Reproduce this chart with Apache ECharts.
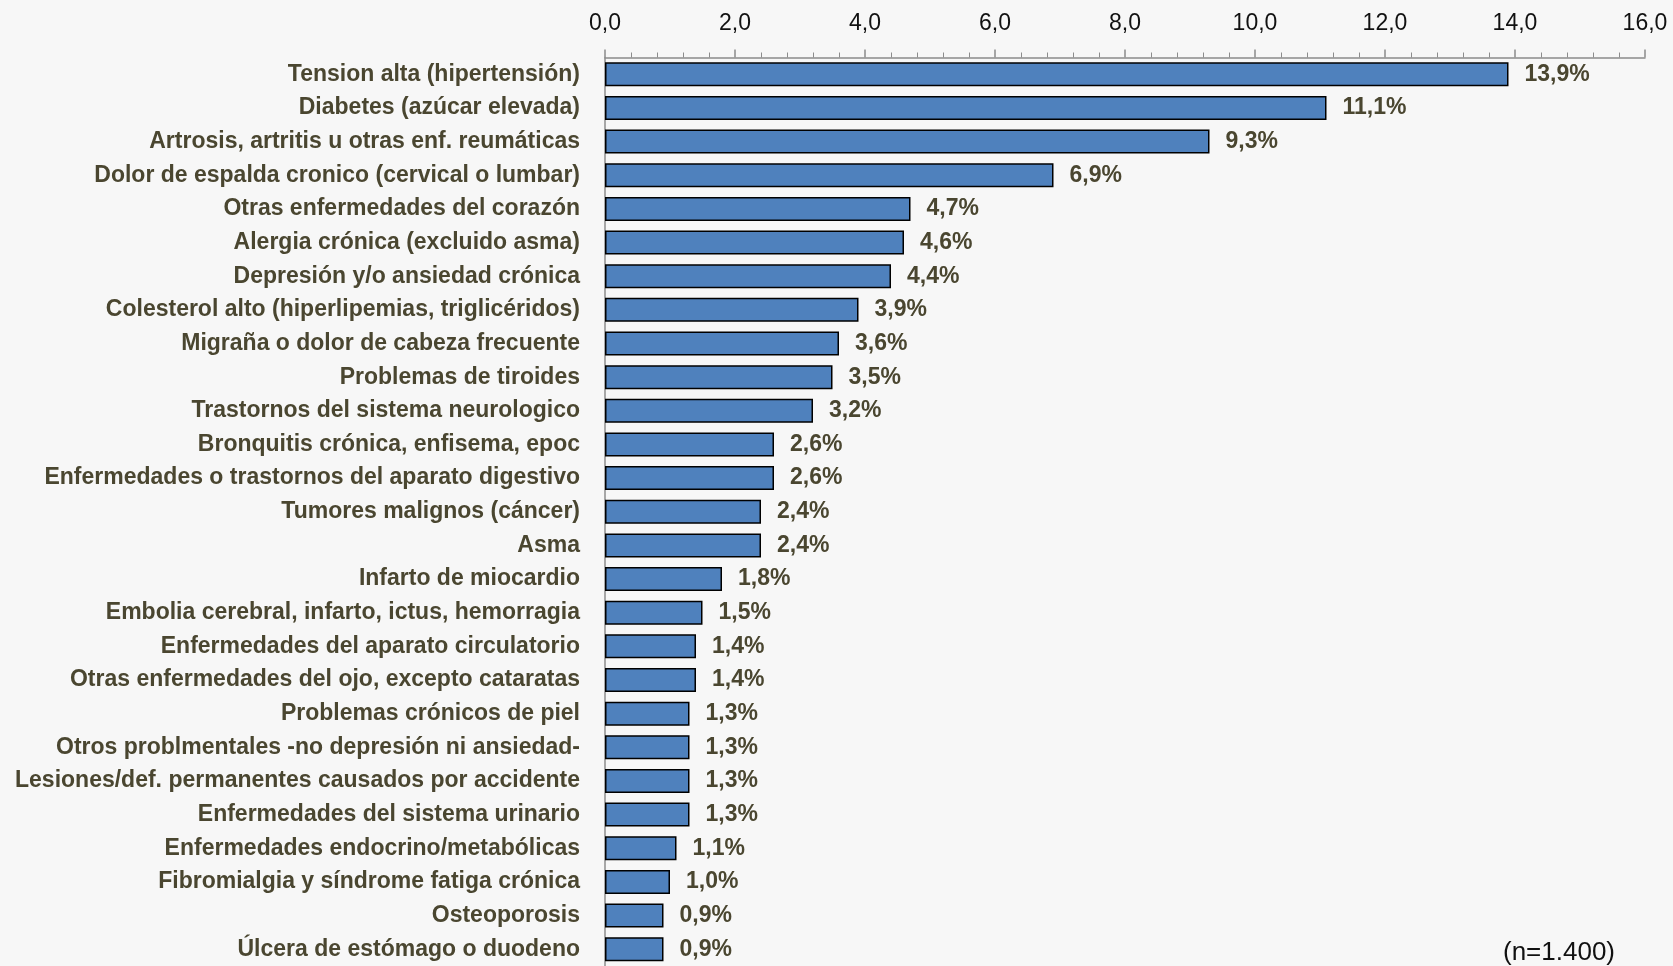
<!DOCTYPE html>
<html><head><meta charset="utf-8">
<script src="https://cdn.jsdelivr.net/npm/echarts@6/dist/echarts.min.js"></script>
<style>html,body{margin:0;padding:0;background:#f7f7f7}#c{width:1673px;height:966px}</style>
</head><body><div id="c"></div>
<script>
const categories = [
"Tension alta (hipertensión)",
"Diabetes (azúcar elevada)",
"Artrosis, artritis u otras enf. reumáticas",
"Dolor de espalda cronico (cervical o lumbar)",
"Otras enfermedades del corazón",
"Alergia crónica (excluido asma)",
"Depresión y/o ansiedad crónica",
"Colesterol alto (hiperlipemias, triglicéridos)",
"Migraña o dolor de cabeza frecuente",
"Problemas de tiroides",
"Trastornos del sistema neurologico",
"Bronquitis crónica, enfisema, epoc",
"Enfermedades o trastornos del aparato digestivo",
"Tumores malignos (cáncer)",
"Asma",
"Infarto de miocardio",
"Embolia cerebral, infarto, ictus, hemorragia",
"Enfermedades del aparato circulatorio",
"Otras enfermedades del ojo, excepto cataratas",
"Problemas crónicos de piel",
"Otros problmentales -no depresión ni ansiedad-",
"Lesiones/def. permanentes causados por accidente",
"Enfermedades del sistema urinario",
"Enfermedades endocrino/metabólicas",
"Fibromialgia y síndrome fatiga crónica",
"Osteoporosis",
"Úlcera de estómago o duodeno"
];
const values = [13.9, 11.1, 9.3, 6.9, 4.7, 4.6, 4.4, 3.9, 3.6, 3.5, 3.2, 2.6, 2.6, 2.4, 2.4, 1.8, 1.5, 1.4, 1.4, 1.3, 1.3, 1.3, 1.3, 1.1, 1.0, 0.9, 0.9];
const axisMin = 0, axisMax = 16, axisInterval = 2;
const note = "(n=1.400)";

const labelFont = "'Liberation Sans', Arial, sans-serif";
const chart = echarts.init(document.getElementById('c'), null, {renderer: 'canvas'});
chart.setOption({
  backgroundColor: '#f7f7f7',
  animation: false,
  grid: {left: 605, right: 28, top: 57.5, height: 911.25},
  graphic: [{type: 'text', right: 58, top: 940, style: {text: note, font: "26px " + labelFont, fill: '#111'}}],
  xAxis: {
    type: 'value', position: 'top', min: axisMin, max: axisMax, interval: axisInterval,
    axisLine: {show: true, lineStyle: {color: '#8c8c8c', width: 1.5}},
    axisTick: {show: true, length: 8, lineStyle: {color: '#8c8c8c', width: 1.5}},
    minorTick: {show: true, splitNumber: 5, length: 5, lineStyle: {color: '#8c8c8c', width: 1}},
    splitLine: {show: false},
    axisLabel: {margin: 22, fontSize: 23, fontFamily: labelFont, color: '#111',
      formatter: v => v.toFixed(1).replace('.', ',')}
  },
  yAxis: {
    type: 'category', inverse: true, data: categories,
    axisLine: {show: true, lineStyle: {color: '#8c8c8c', width: 1.5}},
    axisTick: {show: false},
    axisLabel: {margin: 25, fontSize: 23, fontWeight: 'bold', fontFamily: labelFont, color: '#4a4630', interval: 0}
  },
  series: [{
    type: 'bar', data: values, barWidth: 24,
    itemStyle: {color: '#4f81bd', borderColor: '#000', borderWidth: 1.5},
    label: {show: true, position: 'right', distance: 16, fontSize: 23, fontWeight: 'bold', fontFamily: labelFont, color: '#4a4630',
      formatter: p => p.value.toFixed(1).replace('.', ',') + '%'}
  }]
});
</script></body></html>
